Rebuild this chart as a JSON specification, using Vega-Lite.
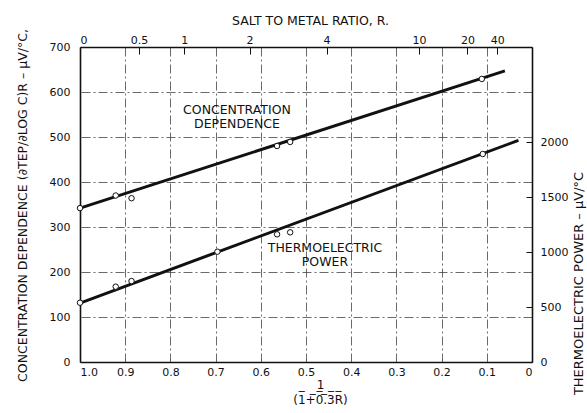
{
  "$schema": "https://vega.github.io/schema/vega-lite/v6.json",
  "width": 452,
  "height": 315,
  "autosize": {"type": "none"},
  "padding": {"left": 80, "top": 47, "right": 55, "bottom": 51},
  "background": "white",
  "config": {
    "font": "DejaVu Sans",
    "view": {"stroke": null},
    "axis": {
      "labelColor": "#111",
      "titleColor": "#111",
      "domainColor": "#111",
      "tickColor": "#111",
      "labelFontSize": 11,
      "titleFontSize": 12.5,
      "titleFontWeight": "normal",
      "gridColor": "#444",
      "gridDash": [9, 3, 2, 3],
      "gridWidth": 0.8,
      "domainWidth": 1.6
    }
  },
  "datasets": {
    "cdpts": [
      {"t": 1.0, "cd": 342},
      {"t": 0.921, "cd": 370},
      {"t": 0.886, "cd": 364},
      {"t": 0.564, "cd": 480},
      {"t": 0.535, "cd": 489},
      {"t": 0.111, "cd": 629}
    ],
    "cdline": [
      {"t": 1.0, "cd": 342},
      {"t": 0.06, "cd": 647}
    ],
    "teppts": [
      {"t": 1.0, "tep": 539},
      {"t": 0.921, "tep": 685},
      {"t": 0.886, "tep": 736},
      {"t": 0.696, "tep": 1003},
      {"t": 0.564, "tep": 1161},
      {"t": 0.535, "tep": 1179},
      {"t": 0.109, "tep": 1891}
    ],
    "tepline": [
      {"t": 1.0, "tep": 536},
      {"t": 0.03, "tep": 2015}
    ],
    "notes": [
      {"t": 0.6527, "cd": 561, "label": "CONCENTRATION"},
      {"t": 0.6527, "cd": 529, "label": "DEPENDENCE"},
      {"t": 0.458, "cd": 254, "label": "THERMOELECTRIC"},
      {"t": 0.458, "cd": 222, "label": "POWER"}
    ]
  },
  "layer": [
    {
      "data": {"name": "cdline"},
      "mark": {"type": "line", "color": "#111", "strokeWidth": 3},
      "encoding": {
        "x": {
          "field": "t", "type": "quantitative",
          "scale": {"domain": [0, 1], "reverse": true, "nice": false, "zero": false},
          "axis": {
            "orient": "bottom",
            "values": [1, 0.9, 0.8, 0.7, 0.6, 0.5, 0.4, 0.3, 0.2, 0.1, 0],
            "labelExpr": "datum.value == 0 ? '0' : format(datum.value, '.1f')",
            "grid": true,
            "ticks": false,
            "tickSize": 0,
            "labelPadding": 4,
            "title": ["1", "(1\u0305+\u03050\u0305.\u03053\u0305R\u0305)"],
            "titleFontSize": 12,
            "titleLineHeight": 15,
            "titleX": 240,
            "titleY": 17,
            "titleBaseline": "top"
          }
        },
        "y": {
          "field": "cd", "type": "quantitative",
          "scale": {"domain": [0, 700], "nice": false},
          "axis": {
            "orient": "left",
            "values": [0, 100, 200, 300, 400, 500, 600, 700],
            "grid": true,
            "ticks": false,
            "tickSize": 0,
            "labelPadding": 10,
            "title": "CONCENTRATION DEPENDENCE (∂TEP/∂LOG C)R – μV/°C,",
            "titleAngle": 270,
            "titleAlign": "center",
            "titleBaseline": "middle",
            "titleX": -58,
            "titleY": 158
          }
        }
      }
    },
    {
      "data": {"name": "cdpts"},
      "mark": {"type": "point", "shape": "circle", "filled": true, "fill": "white", "stroke": "#111", "strokeWidth": 1, "size": 30, "opacity": 1},
      "encoding": {
        "x": {"field": "t", "type": "quantitative", "scale": {"domain": [0, 1], "reverse": true, "nice": false, "zero": false}, "axis": null},
        "y": {"field": "cd", "type": "quantitative", "scale": {"domain": [0, 700], "nice": false}, "axis": null}
      }
    },
    {
      "data": {"name": "notes"},
      "mark": {"type": "text", "fontSize": 12.5, "color": "#111", "align": "center", "baseline": "middle"},
      "encoding": {
        "x": {"field": "t", "type": "quantitative", "scale": {"domain": [0, 1], "reverse": true, "nice": false, "zero": false}, "axis": null},
        "y": {"field": "cd", "type": "quantitative", "scale": {"domain": [0, 700], "nice": false}, "axis": null},
        "text": {"field": "label"}
      }
    },
    {
      "data": {"name": "tepline"},
      "mark": {"type": "line", "color": "#111", "strokeWidth": 3},
      "encoding": {
        "x": {
          "field": "t", "type": "quantitative",
          "scale": {"domain": [0, 1], "reverse": true, "nice": false, "zero": false},
          "axis": {
            "orient": "top",
            "values": [1, 0.869565, 0.769231, 0.625, 0.454545, 0.25, 0.142857, 0.076923],
            "labelExpr": "toString(round((1 / datum.value - 1) / 0.3 * 10) / 10)",
            "grid": false,
            "tickSize": -7,
            "labelPadding": 9,
            "title": "SALT TO METAL RATIO, R.",
            "titleFontSize": 12.5,
            "titleX": 230,
            "titleY": -27,
            "titleBaseline": "middle"
          }
        },
        "y": {
          "field": "tep", "type": "quantitative",
          "scale": {"domain": [0, 2864], "nice": false},
          "axis": {
            "orient": "right",
            "values": [0, 500, 1000, 1500, 2000],
            "format": "d",
            "grid": false,
            "tickSize": -6,
            "labelPadding": 14,
            "title": "THERMOELECTRIC POWER – μV/°C",
            "titleFontSize": 13,
            "titleAngle": 270,
            "titleAlign": "center",
            "titleBaseline": "middle",
            "titleX": 46,
            "titleY": 236
          }
        }
      }
    },
    {
      "data": {"name": "teppts"},
      "mark": {"type": "point", "shape": "circle", "filled": true, "fill": "white", "stroke": "#111", "strokeWidth": 1, "size": 30, "opacity": 1},
      "encoding": {
        "x": {"field": "t", "type": "quantitative", "scale": {"domain": [0, 1], "reverse": true, "nice": false, "zero": false}, "axis": null},
        "y": {"field": "tep", "type": "quantitative", "scale": {"domain": [0, 2864], "nice": false}, "axis": null}
      }
    }
  ],
  "resolve": {"scale": {"x": "independent", "y": "independent"}}
}
